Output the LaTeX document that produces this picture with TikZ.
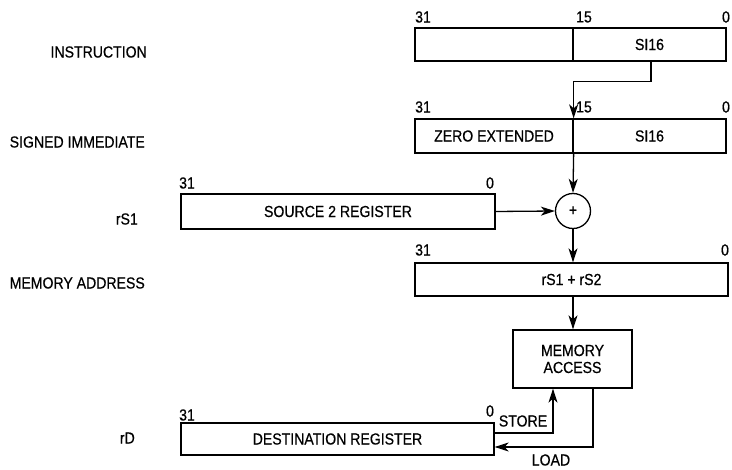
\documentclass[tikz,border=0pt]{standalone}
\usepackage{fontspec}
\setmainfont{Liberation Sans}[FakeStretch=0.88,FakeBold=0.5]
\usetikzlibrary{arrows.meta}
\tikzset{
  txt/.style={font=\fontsize{16}{17}\selectfont, inner sep=0pt},
  bitnum/.style={font=\fontsize{16}{17}\selectfont, inner sep=0pt},
  regbox/.style={draw, line width=1.3pt, inner sep=0pt, font=\fontsize{16}{17}\selectfont, align=center},
  arr/.style={line width=1.3pt, -{Stealth[length=14pt,width=9pt,inset=4pt]}},
  ln/.style={line width=1.3pt}
}
\begin{document}
\begin{tikzpicture}[x=1pt,y=-1pt]
\useasboundingbox (0,0) rectangle (732,470);
% left labels
\node[txt, anchor=east] (lInstr) at (147,52) {INSTRUCTION};
\node[txt, anchor=east] (lSigned) at (145,142) {SIGNED IMMEDIATE};
\node[txt, anchor=east] (lrS1) at (138,219) {rS1};
\node[txt, anchor=east] (lMem) at (145,283) {MEMORY ADDRESS};
\node[txt, anchor=east] (lrD) at (135,438) {rD};
% instruction
\node[regbox, minimum width=158pt, minimum height=33pt] (iL) at (494,44.5) {};
\node[regbox, minimum width=153pt, minimum height=33pt] (iR) at (649.5,44.5) {SI16};
\node[bitnum] (b1) at (423,17) {31};
\node[bitnum] (b2) at (584,17) {15};
\node[bitnum] (b3) at (726,17) {0};
% signed immediate
\node[regbox, minimum width=158pt, minimum height=34pt] (sL) at (494,136) {ZERO EXTENDED};
\node[regbox, minimum width=153pt, minimum height=34pt] (sR) at (649.5,136) {SI16};
\node[bitnum] (b4) at (423,107) {31};
\node[bitnum] (b5) at (584,107) {15};
\node[bitnum] (b6) at (726,107) {0};
% source register
\node[regbox, minimum width=314pt, minimum height=35pt] (src) at (338,211.5) {SOURCE 2 REGISTER};
\node[bitnum] (b7) at (187,183) {31};
\node[bitnum] (b8) at (490,183) {0};
% adder
\node[draw, circle, line width=1.3pt, minimum size=35pt, inner sep=0pt, font=\fontsize{16}{17}\selectfont] (add) at (573,211) {+};
% memory address
\node[regbox, minimum width=313pt, minimum height=33pt] (mem) at (571.5,279.5) {rS1 + rS2};
\node[bitnum] (b9) at (423,250) {31};
\node[bitnum] (b10) at (725,250) {0};
% memory access
\node[regbox, minimum width=119pt, minimum height=58pt] (ma) at (572.5,359) {MEMORY\\ACCESS};
% destination
\node[regbox, minimum width=313pt, minimum height=32pt] (dst) at (337.5,439) {DESTINATION REGISTER};
\node[bitnum] (b11) at (187,415) {31};
\node[bitnum] (b12) at (490,411) {0};
% labels
\node[txt] (store) at (523,421) {STORE};
\node[txt] (load) at (551,460) {LOAD};
% connectors
\draw[arr] ([xshift=1.5pt]iR.south) -- ++(0,20) -| (sL.north east);
\draw[arr] (sL.south east) -- (add.north);
\draw[arr] (src.east) -- (add.west);
\draw[arr] (add.south) -- (add.south |- mem.north);
\draw[arr] (add.south |- mem.south) -- (add.south |- ma.north);
\draw[arr] ([yshift=6pt]dst.east) -| ([xshift=-19.5pt]ma.south);
\draw[arr] ([xshift=20.5pt]ma.south) |- ([yshift=-8pt]dst.east);
\end{tikzpicture}
\end{document}
